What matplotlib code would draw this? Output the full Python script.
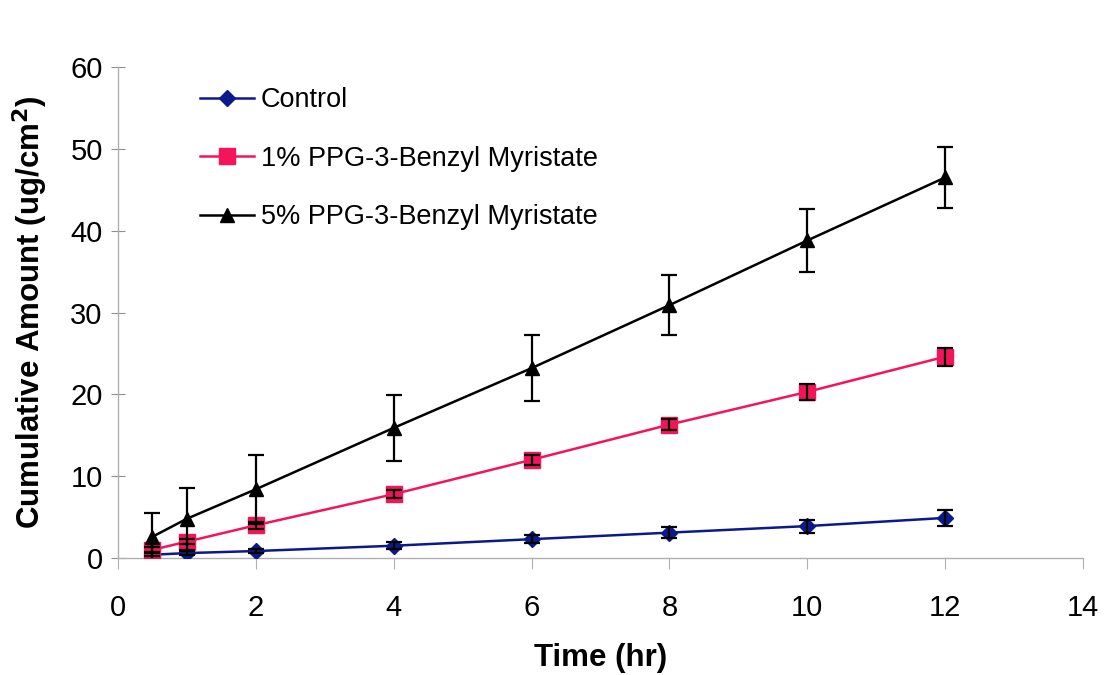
import matplotlib
matplotlib.use("Agg")
import matplotlib.pyplot as plt

time_hr = [0.5, 1, 2, 4, 6, 8, 10, 12]
control = [0.4, 0.6, 0.85, 1.5, 2.3, 3.1, 3.9, 4.9]
control_err = [0.2, 0.2, 0.3, 0.4, 0.5, 0.7, 0.8, 1.0]
ppg1 = [1.0, 2.0, 4.0, 7.8, 12.0, 16.3, 20.3, 24.6]
ppg1_err = [0.3, 0.3, 0.4, 0.5, 0.6, 0.7, 1.0, 1.1]
ppg5 = [2.6, 4.8, 8.4, 15.9, 23.2, 30.9, 38.8, 46.5]
ppg5_err = [2.9, 3.8, 4.2, 4.0, 4.0, 3.7, 3.8, 3.7]

labels = ["Control", "1% PPG-3-Benzyl Myristate", "5% PPG-3-Benzyl Myristate"]
colors = ["#0a1a8c", "#f5145a", "#000000"]
markers = ["D", "s", "^"]
msizes = [8, 11, 10]

plt.rcParams['font.family'] = ['Liberation Sans', 'DejaVu Sans']

fig = plt.figure(figsize=(11.05, 6.75), dpi=100)
ax = fig.add_axes([118/1105, 1 - 558/675, (1083 - 118)/1105, (558 - 67)/675])

series = [(control, control_err), (ppg1, ppg1_err), (ppg5, ppg5_err)]
for (vals, errs), lab, c, m, ms in zip(series, labels, colors, markers, msizes):
    ax.plot(time_hr, vals, color=c, lw=1.8, marker=m, ms=ms, mfc=c, mec=c,
            label=lab, zorder=3)
    ax.errorbar(time_hr, vals, yerr=errs, fmt='none', ecolor='black',
                elinewidth=1.6, capsize=6, capthick=1.6, zorder=4)

ax.set_xlim(0, 14)
ax.set_ylim(0, 60)
ax.set_xticks(range(0, 15, 2))
ax.set_yticks(range(0, 61, 10))

for s in ['top', 'right']:
    ax.spines[s].set_visible(False)
for s in ['left', 'bottom']:
    ax.spines[s].set_color('#b0b0b0')
    ax.spines[s].set_linewidth(1.0)

ax.tick_params(axis='y', direction='inout', length=10, color='#909090',
               labelsize=21, pad=6)
ax.tick_params(axis='x', direction='out', length=8, color='#b0b0b0',
               labelsize=21, pad=18)

ax.set_xlabel("Time (hr)", fontsize=22.5, fontweight='bold', labelpad=15)
ax.set_ylabel("Cumulative Amount (ug/cm$^\\mathbf{2}$)", fontsize=22.5,
              fontweight='bold', labelpad=15)

ax.legend(loc='upper left', bbox_to_anchor=(200/1105, 1 - 87/675),
          bbox_transform=fig.transFigure, frameon=False, fontsize=19.5,
          handlelength=2.0, handletextpad=0.25, labelspacing=1.2,
          borderpad=0, borderaxespad=0)

fig.savefig("out.png", dpi=100, facecolor='white')
